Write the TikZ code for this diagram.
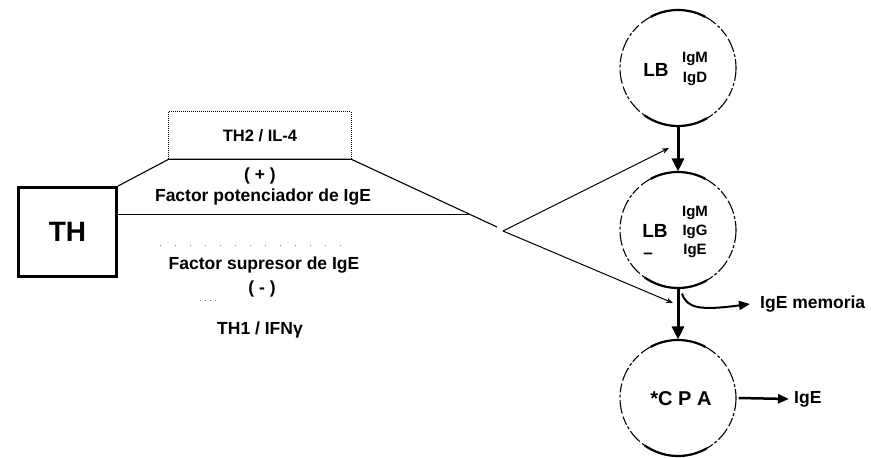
\documentclass[tikz,border=0pt]{standalone}
\usepackage{fontspec}
\setmainfont{Liberation Sans}
\usetikzlibrary{arrows.meta,calc}
\tikzset{
  lbl/.style={font=\bfseries\fontsize{17.5}{18}\selectfont, inner sep=0pt},
  small/.style={font=\bfseries\fontsize{15}{16}\selectfont, inner sep=0pt},
  big/.style={font=\bfseries\fontsize{19}{20}\selectfont, inner sep=0pt},
  cell/.style={circle, minimum size=116pt, inner sep=0pt,
    draw, line width=1.1pt, dash pattern=on 9pt off 2pt on 3pt off 2.5pt on 14pt off 3pt},
  thick arrow/.style={line width=3pt, -{Triangle[length=13pt,width=12pt]}},
  thin arrow/.style={line width=1pt, -{Stealth[length=7pt,width=5.5pt]}},
  link/.style={line width=1.1pt},
}
\begin{document}
\begin{tikzpicture}[x=1pt,y=-1pt]
\useasboundingbox (0,0) rectangle (871,458);

% helper T cell
\node[draw, line width=3pt, minimum width=98pt, minimum height=89pt, inner sep=0pt,
      font=\bfseries\fontsize{28}{29}\selectfont] (th) at (67.5,232) {TH};

% TH2 box (dotted top and sides, solid base shared with the outline)
\node[minimum width=182pt, minimum height=47pt, inner sep=0pt,
      font=\bfseries\fontsize{16.5}{17}\selectfont] (th2) at (260,135.5) {TH2 / IL-4};
\draw[line width=0.8pt, dash pattern=on 1pt off 1pt]
  (th2.south west) -- (th2.north west) -- (th2.north east) -- (th2.south east);

% B cells and plasma cell
\node[cell] (c1) at (678,68) {};
\node[cell] (c2) at (678,230) {};
\node[cell] (c3) at (678,398) {};
\foreach \c in {c1,c2,c3}{
  \draw[line width=2.2pt] (\c) ++(62:58pt) arc (62:118:58pt);
  \draw[line width=2.2pt] (\c) ++(235:58pt) arc (235:300:58pt);
}

\node[big] (lb1) at (656,70) {LB};
\node[small] (m1) at (695,59) {IgM};
\node[small] (d1) at (695,79) {IgD};

\node[big] (lb2) at (655,231) {LB};
\node[font=\bfseries\fontsize{17}{18}\selectfont, inner sep=0pt] (dash2) at (648,256) {–};
\node[small] (m2) at (695,213) {IgM};
\node[small] (g2) at (695,232) {IgG};
\node[small] (e2) at (695,251) {IgE};

\node[font=\bfseries\fontsize{20}{21}\selectfont, inner sep=0pt] (cpa) at (681,399) {*C P A};

% side labels
\node[lbl, anchor=west] (mem) at (760,304) {IgE memoria};
\node[lbl, anchor=west] (ige) at (794,399) {IgE};

% outline from TH through TH2 to the switch point
\coordinate (v) at (503,231);
\coordinate (end) at (497,227);
\coordinate (meet) at (469,214);
\draw[link, line join=round] (th.north east) -- (th2.south west) -- (th2.south east) -- (end);
\draw[line width=1pt] (th.east |- meet) -- (meet);

% switch arrows into the B-cell chain
\coordinate (up) at (669,148);
\coordinate (dn) at (673,303);
\draw[thin arrow] (v) -- (up);
\draw[thin arrow] (v) -- (dn);

% regulation texts
\node[lbl] (plus) at (260,176) {( + )};
\node[lbl] (pot) at (263,197) {Factor potenciador de IgE};
\node[lbl] (sup) at (264,265) {Factor supresor de IgE};
\node[lbl] (minus) at (262,289) {( - )};
\node[lbl] (th1) at (260,330) {TH1 / IFNγ};

% faint dotted trace below
\draw[line width=0.6pt, gray, dash pattern=on 1pt off 14pt] (160,245) -- (355,245);
\draw[line width=0.6pt, gray, dash pattern=on 1pt off 4pt] (200,300) -- (216,300);

% differentiation arrows
\draw[thick arrow] (c1.south) -- (c2.north);
\draw[thick arrow] (c2.south) -- (c3.north);
\draw[line width=2pt, -{Triangle[length=11pt,width=9pt]}]
  ($(c2.south)+(4,5)$) .. controls ($(c2.south)+(9,20)$) and ($(c2.south)+(22,22)$) .. ($(mem.west)+(-10,0)$);
\draw[line width=2.5pt, -{Triangle[length=11pt,width=9pt]}] ($(c3.east)+(2,0)$) -- ($(ige.west)+(-5,0)$);
\end{tikzpicture}
\end{document}
